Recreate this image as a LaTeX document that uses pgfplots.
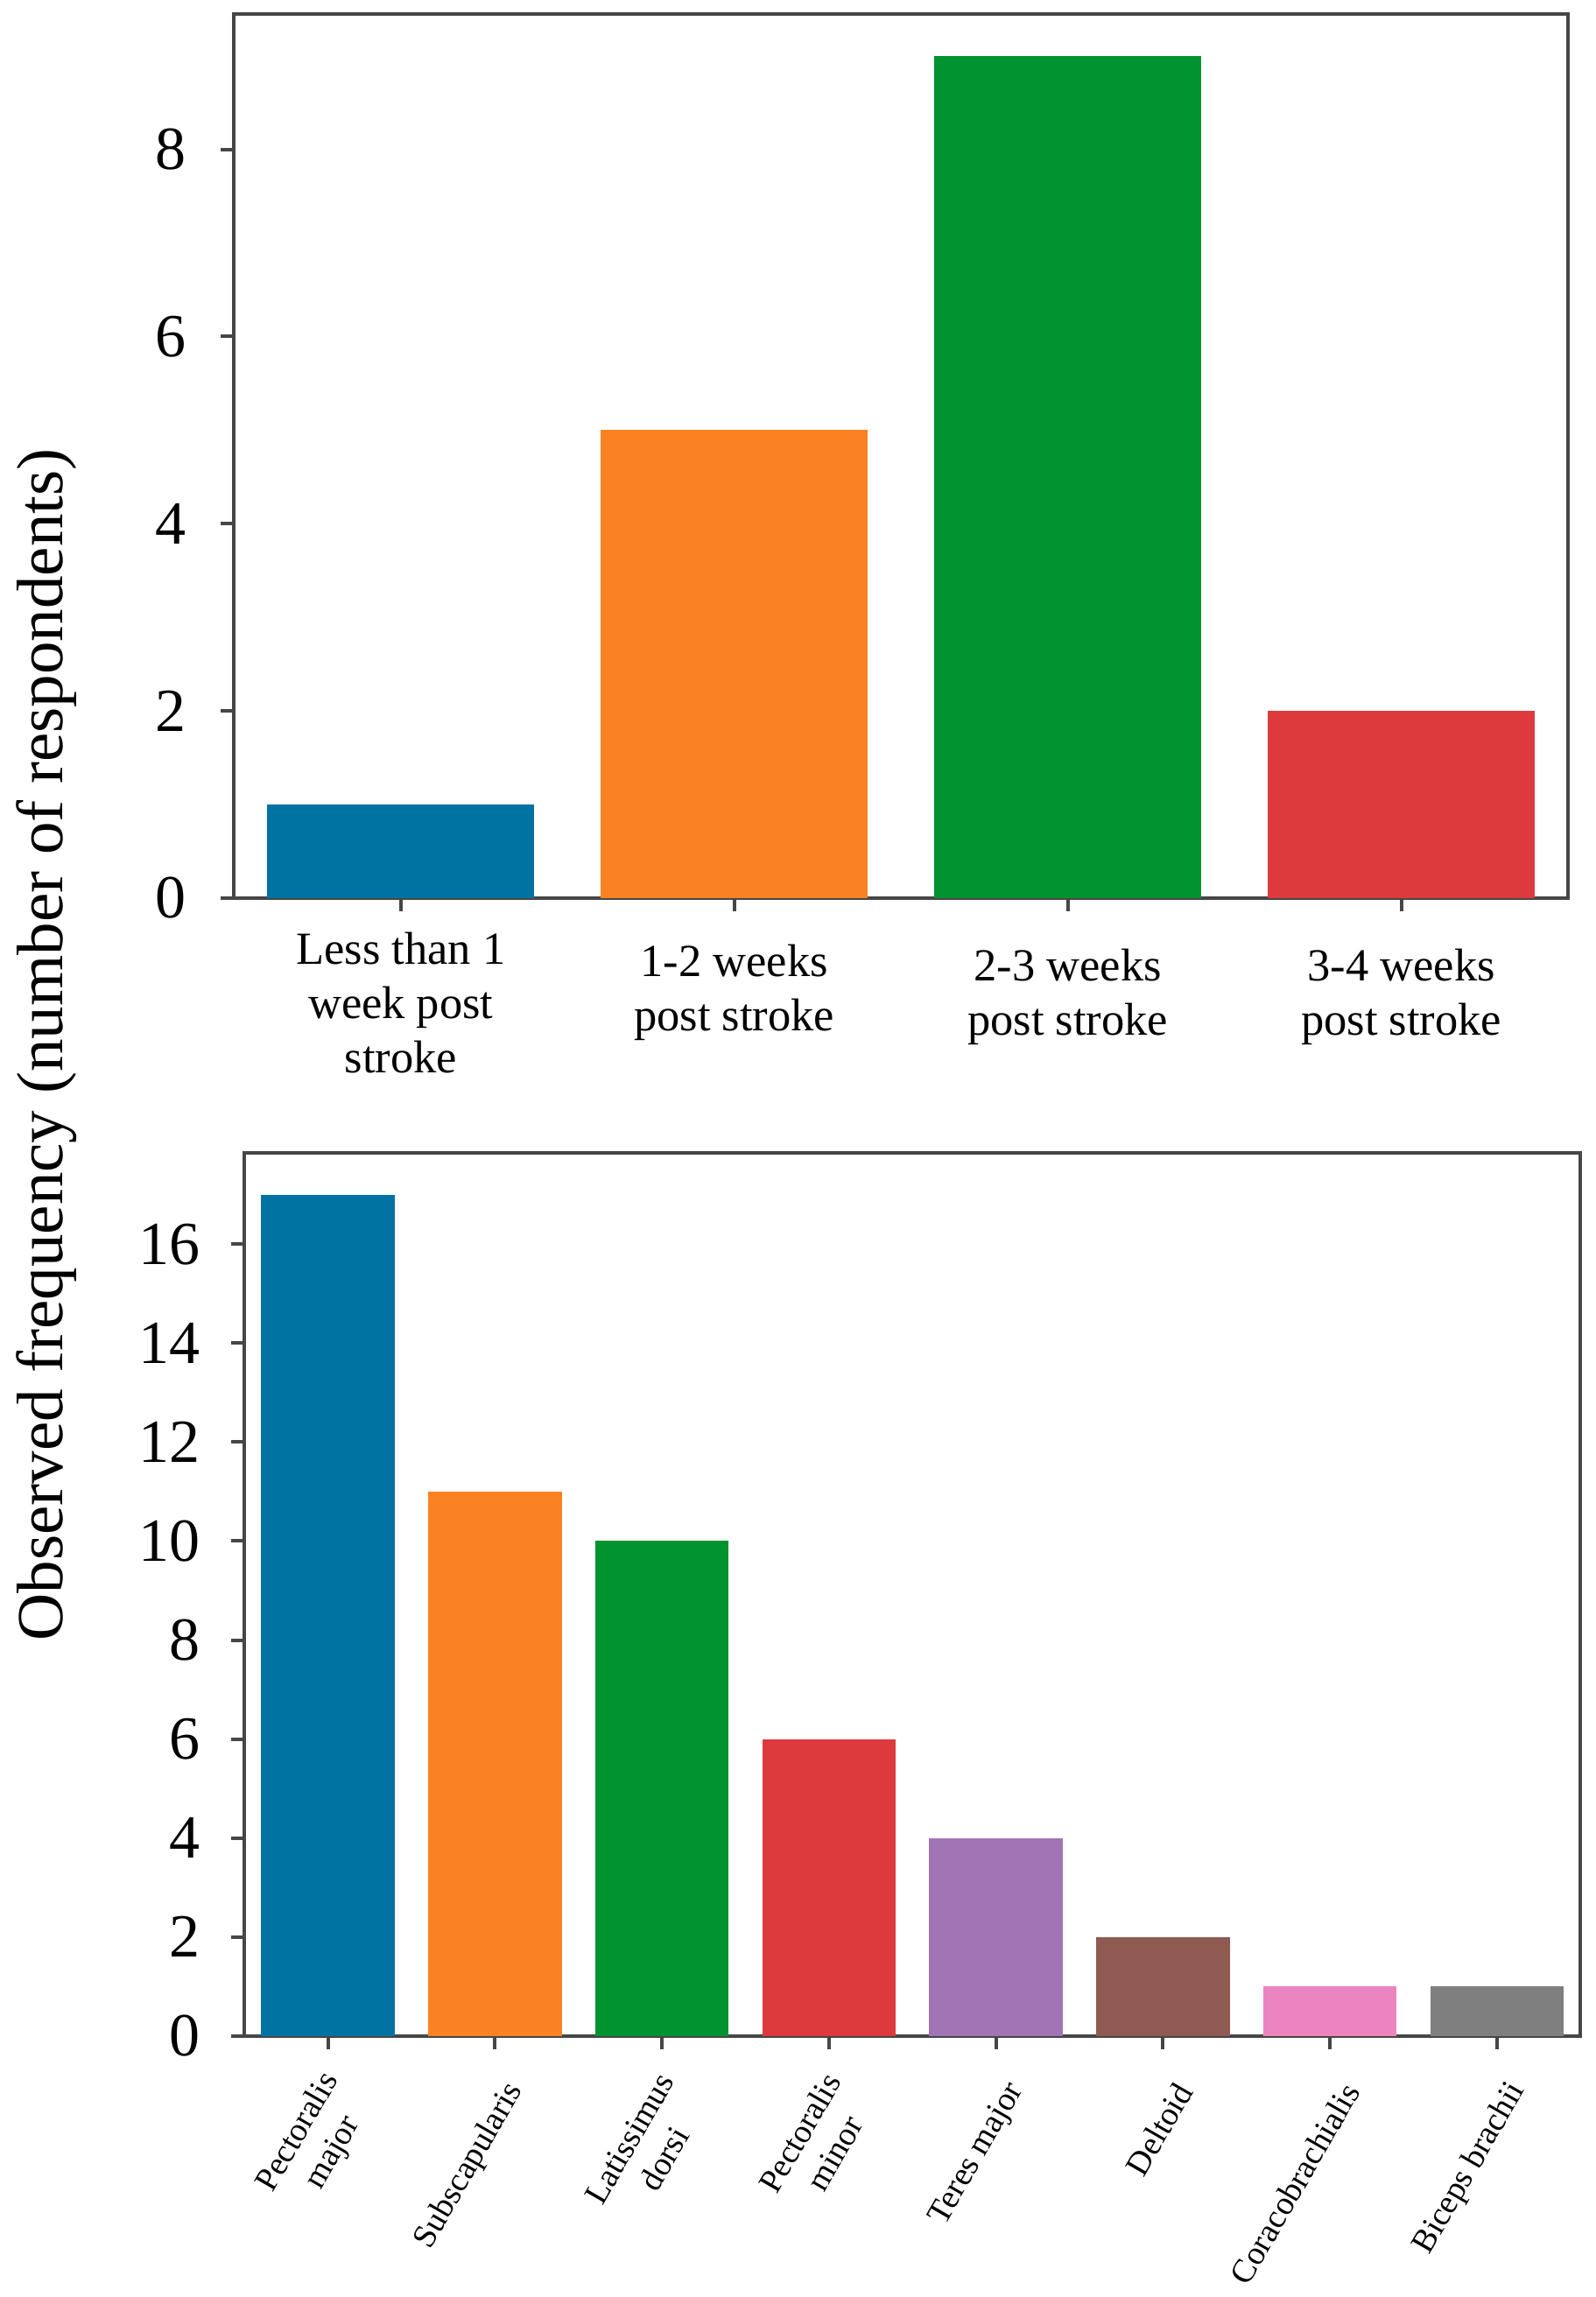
\documentclass[border=0pt]{standalone}
\usepackage{fontspec}
\setmainfont{Liberation Serif}
\usepackage{pgfplots}
\pgfplotsset{compat=1.18}
\definecolor{axisgray}{RGB}{70,70,70}
\definecolor{cblue}{RGB}{0,115,162}
\definecolor{corange}{RGB}{251,130,34}
\definecolor{cgreen}{RGB}{0,147,47}
\definecolor{cred}{RGB}{221,58,61}
\definecolor{cpurple}{RGB}{161,117,181}
\definecolor{cbrown}{RGB}{142,90,82}
\definecolor{cpink}{RGB}{236,133,191}
\definecolor{cgray}{RGB}{127,127,127}
\pgfplotsset{
  common/.style={
    scale only axis,
    ybar, bar shift=0pt, bar width=0.8,
    ymin=0,
    axis line style={draw=axisgray, line width=0.8pt},
    tick style={draw=axisgray, line width=0.8pt},
    tick align=outside, major tick length=3pt,
    tick pos=left,
    /pgf/number format/assume math mode=true,
  }
}
\begin{document}
\begin{tikzpicture}
\path[use as bounding box] (0,0) rectangle (364.4pt,-524.8pt);
\begin{axis}[common,
  at={(53.46pt,-205.14pt)}, anchor=south west,
  width=304.8pt, height=202pt,
  xmin=-0.5, xmax=3.5, ymax=9.45,
  xtick={0,1,2,3}, ytick={0,2,4,6,8},
  yticklabel style={font=\fontsize{14}{16}\selectfont, anchor=east, inner sep=0pt, xshift=-7.7pt},
  xticklabels={Less than 1\\week post\\stroke, \rule{0pt}{10.1pt}1-2 weeks\\post stroke, \rule{0pt}{11.1pt}2-3 weeks\\post stroke, \rule{0pt}{11.1pt}3-4 weeks\\post stroke},
  xticklabel style={font=\fontsize{10.5}{12.4}\selectfont, align=center, anchor=north, inner sep=0pt, yshift=-4.6pt},
]
\addplot[fill=cblue, draw=none] coordinates {(0,1)};
\addplot[fill=corange, draw=none] coordinates {(1,5)};
\addplot[fill=cgreen, draw=none] coordinates {(2,9)};
\addplot[fill=cred, draw=none] coordinates {(3,2)};
\end{axis}
\begin{axis}[common,
  at={(55.86pt,-465.14pt)}, anchor=south west,
  width=305.2pt, height=201.8pt,
  xmin=-0.5, xmax=7.5, ymax=17.85,
  xtick={0,1,2,3,4,5,6,7}, ytick={0,2,4,6,8,10,12,14,16},
  yticklabel style={font=\fontsize{14}{16}\selectfont, anchor=east, inner sep=0pt, xshift=-6.9pt},
  xticklabels={Pectoralis\\major, Subscapularis, Latissimus\\dorsi, Pectoralis\\minor, Teres major, Deltoid, Coracobrachialis, Biceps brachii},
  xticklabel style={font=\fontsize{7.6}{9.2}\selectfont, align=center, inner sep=0pt, anchor=east, xshift=4.9pt, yshift=-8.3pt, rotate=60},
]
\addplot[fill=cblue, draw=none] coordinates {(0,17)};
\addplot[fill=corange, draw=none] coordinates {(1,11)};
\addplot[fill=cgreen, draw=none] coordinates {(2,10)};
\addplot[fill=cred, draw=none] coordinates {(3,6)};
\addplot[fill=cpurple, draw=none] coordinates {(4,4)};
\addplot[fill=cbrown, draw=none] coordinates {(5,2)};
\addplot[fill=cpink, draw=none] coordinates {(6,1)};
\addplot[fill=cgray, draw=none] coordinates {(7,1)};
\end{axis}
\node[rotate=90, anchor=base, font=\fontsize{15}{18}\selectfont, inner sep=0pt] at (14.4pt,-238.7pt) {Observed frequency (number of respondents)};
\end{tikzpicture}
\end{document}
